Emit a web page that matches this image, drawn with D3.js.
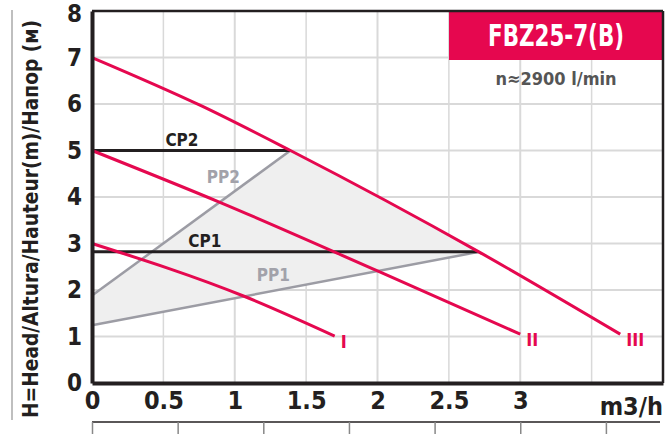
<!DOCTYPE html>
<html lang="en">
    <head>
        <meta charset="utf-8">
        <title>FBZ25-7(B)</title>
        <script type="text/javascript" src="https://cdn.jsdelivr.net/npm/d3@7"></script>
        <style type="text/css">
            body { margin: 0; background: #fff; }
            text { font-family: "Liberation Sans Narrow", "DejaVu Sans Condensed", sans-serif; font-weight: bold; }
        </style>
    </head>
    <body>
        <script type="text/javascript">
        // pump curves (flow m3/h, head m)
        var flowI   = [0, 1.07, 1.7];
        var headI   = [3, 1.86, 1.01];
        var flowII  = [0, 0.9, 2, 3];
        var headII  = [5, 3.88, 2.41, 1.05];
        var flowIII = [0, 0.76, 1.39, 2.71, 3.7];
        var headIII = [7, 5.97, 5, 2.82, 1.05];

        // constant / proportional pressure lines
        var flowCP1 = [0, 2.71], headCP1 = [2.82, 2.82];
        var flowCP2 = [0, 1.39], headCP2 = [5, 5];
        var flowPP1 = [0, 2.71], headPP1 = [1.24, 2.82];
        var flowPP2 = [0, 1.39], headPP2 = [1.88, 5];

        var xTicks = [0, 0.5, 1, 1.5, 2, 2.5, 3];
        var yTicks = [0, 1, 2, 3, 4, 5, 6, 7, 8];
        var lminTicks = [0, 10, 20, 30, 40, 50, 60];

        var w = 667;
        var h = 434;
        var red = "#e5084f";
        var ink = "#231f20";
        var grey = "#9c9ca4";

        var zip = function(xs, ys) { return xs.map(function(v, i) { return [v, ys[i]]; }); };

        var svg = d3.select("body")
                    .append("svg")
                    .attr("width", w)
                    .attr("height", h);

        var x = d3.scaleLinear().domain([0, 4]).range([92, 663]);
        var y = d3.scaleLinear().domain([0, 8]).range([383, 11]);
        var xl = d3.scaleLinear().domain([0, 4000 / 60]).range([92, 663]);

        // grid
        var gx = d3.range(0.5, 4, 0.5);
        svg.selectAll("line.gx")
           .data(gx)
           .enter()
           .append("line")
           .attr("x1", function(d) { return x(d); })
           .attr("x2", function(d) { return x(d); })
           .attr("y1", y(8))
           .attr("y2", y(0))
           .attr("stroke", "#d9d9d9")
           .attr("stroke-width", function(d) { return d % 1 === 0 ? 2 : 1.5; });
        svg.selectAll("line.gy")
           .data(d3.range(1, 8))
           .enter()
           .append("line")
           .attr("x1", x(0))
           .attr("x2", x(4))
           .attr("y1", function(d) { return y(d); })
           .attr("y2", function(d) { return y(d); })
           .attr("stroke", "#d9d9d9")
           .attr("stroke-width", 2);

        // shaded working area: under III, above PP1, below PP2
        var pp1 = function(q) { return headPP1[0] + (headPP1[1] - headPP1[0]) * q / flowPP1[1]; };
        var pp2x = function(hh) { return flowPP2[1] * (hh - headPP2[0]) / (headPP2[1] - headPP2[0]); };
        var clipPts = [[0, headPP2[0]], [pp2x(8), 8], [4, 8], [4, pp1(4)], [0, headPP1[0]]];
        svg.append("clipPath")
           .attr("id", "zone")
           .append("path")
           .attr("d", d3.line().x(function(d) { return x(d[0]); }).y(function(d) { return y(d[1]); })(clipPts) + "Z");
        svg.append("path")
           .attr("clip-path", "url(#zone)")
           .attr("fill", "#efefef")
           .attr("d", d3.area()
                .curve(d3.curveMonotoneX)
                .x(function(d) { return x(d[0]); })
                .y0(y(0))
                .y1(function(d) { return y(d[1]); })(zip(flowIII, headIII)));

        var line = d3.line()
                     .x(function(d) { return x(d[0]); })
                     .y(function(d) { return y(d[1]); });
        var smooth = d3.line()
                       .curve(d3.curveMonotoneX)
                       .x(function(d) { return x(d[0]); })
                       .y(function(d) { return y(d[1]); });

        // PP lines
        [[flowPP1, headPP1], [flowPP2, headPP2]].forEach(function(s) {
            svg.append("path").attr("d", line(zip(s[0], s[1])))
               .attr("fill", "none").attr("stroke", grey).attr("stroke-width", 2.5);
        });
        // CP lines
        [[flowCP1, headCP1], [flowCP2, headCP2]].forEach(function(s) {
            svg.append("path").attr("d", line(zip(s[0], s[1])))
               .attr("fill", "none").attr("stroke", ink).attr("stroke-width", 3);
        });

        // pump curves
        var curves = [
            { name: "I",   q: flowI,   h: headI },
            { name: "II",  q: flowII,  h: headII },
            { name: "III", q: flowIII, h: headIII }
        ];
        curves.forEach(function(c) {
            svg.append("path").attr("d", smooth(zip(c.q, c.h)))
               .attr("fill", "none").attr("stroke", red).attr("stroke-width", 3);
            svg.append("text")
               .text(c.name)
               .attr("x", x(c.q[c.q.length - 1]) + 6)
               .attr("y", y(c.h[c.h.length - 1]) + 12)
               .attr("font-size", "18px")
               .attr("fill", red);
        });

        // line labels
        var labels = [
            { t: "CP2", q: 0.63, v: 5,    c: ink },
            { t: "CP1", q: 0.79, v: 2.82, c: ink },
            { t: "PP2", q: 0.92, v: 4.2,  c: "#a2a2aa" },
            { t: "PP1", q: 1.27, v: 2.08, c: "#a2a2aa" }
        ];
        svg.selectAll("text.lbl")
           .data(labels)
           .enter()
           .append("text")
           .attr("class", "lbl")
           .text(function(d) { return d.t; })
           .attr("x", function(d) { return x(d.q); })
           .attr("y", function(d) { return y(d.v) - 5; })
           .attr("text-anchor", "middle")
           .attr("font-size", "17px")
           .attr("fill", function(d) { return d.c; });

        // header box
        svg.append("rect")
           .attr("x", 449).attr("y", 11)
           .attr("width", x(4) - 449).attr("height", 49)
           .attr("fill", "#e6074f");
        svg.append("text")
           .text("FBZ25-7(B)")
           .attr("x", 556).attr("y", 46)
           .attr("text-anchor", "middle")
           .attr("font-size", "30px")
           .attr("textLength", 136)
           .attr("lengthAdjust", "spacingAndGlyphs")
           .attr("fill", "#fff");
        svg.append("text")
           .text("n\u22482900 l/min")
           .attr("x", 556).attr("y", 85)
           .attr("text-anchor", "middle")
           .attr("font-size", "18px")
           .attr("fill", "#555");

        // frame
        svg.append("line").attr("x1", x(0)).attr("x2", x(4)).attr("y1", y(8)).attr("y2", y(8))
           .attr("stroke", ink).attr("stroke-width", 2.5);
        svg.append("line").attr("x1", x(4)).attr("x2", x(4)).attr("y1", y(8)).attr("y2", y(0))
           .attr("stroke", ink).attr("stroke-width", 2.5);

        // axes
        var yAxis = svg.append("g")
           .attr("transform", "translate(" + x(0) + ",0)")
           .call(d3.axisLeft(y).tickValues(yTicks).tickSize(0).tickPadding(10));
        yAxis.select(".domain").attr("stroke", ink).attr("stroke-width", 4);
        yAxis.selectAll("text").attr("font-size", "24px").attr("fill", ink)
             .attr("font-family", null)
             .attr("dy", function(d) { return d === 8 ? "0.42em" : "0.32em"; });

        var xAxis = svg.append("g")
           .attr("transform", "translate(0," + y(0) + ")")
           .call(d3.axisBottom(x).tickValues(xTicks).tickSize(0).tickPadding(8).tickFormat(d3.format("~g")));
        xAxis.select(".domain").attr("stroke", ink).attr("stroke-width", 4);
        xAxis.selectAll("text").attr("font-size", "25px").attr("fill", ink)
             .attr("font-family", null);

        svg.append("text")
           .text("m3/h")
           .attr("x", 663).attr("y", 415)
           .attr("text-anchor", "end")
           .attr("font-size", "25px")
           .attr("fill", ink);

        // second flow scale (l/min), cut at bottom
        var lAxis = svg.append("g")
           .attr("transform", "translate(0,422)")
           .call(d3.axisBottom(xl).tickValues(lminTicks).tickSize(14).tickFormat(""));
        lAxis.select(".domain").attr("stroke", ink).attr("stroke-width", 1.5)
             .attr("d", "M92,0H660");
        lAxis.selectAll(".tick line").attr("stroke", "#888").attr("stroke-width", 1.5);

        // y title
        svg.append("line").attr("x1", 12).attr("x2", 12).attr("y1", 10).attr("y2", 420)
           .attr("stroke", "#aaa").attr("stroke-width", 1.5);
        svg.append("text")
           .text("H=Head/Altura/Hauteur(m)/\u041d\u0430\u043f\u043e\u0440 (\u043c)")
           .attr("transform", "translate(38,219) rotate(-90)")
           .attr("text-anchor", "middle")
           .attr("font-size", "21px")
           .attr("textLength", 398)
           .attr("lengthAdjust", "spacingAndGlyphs")
           .attr("fill", ink);
        </script>
    </body>
</html>
